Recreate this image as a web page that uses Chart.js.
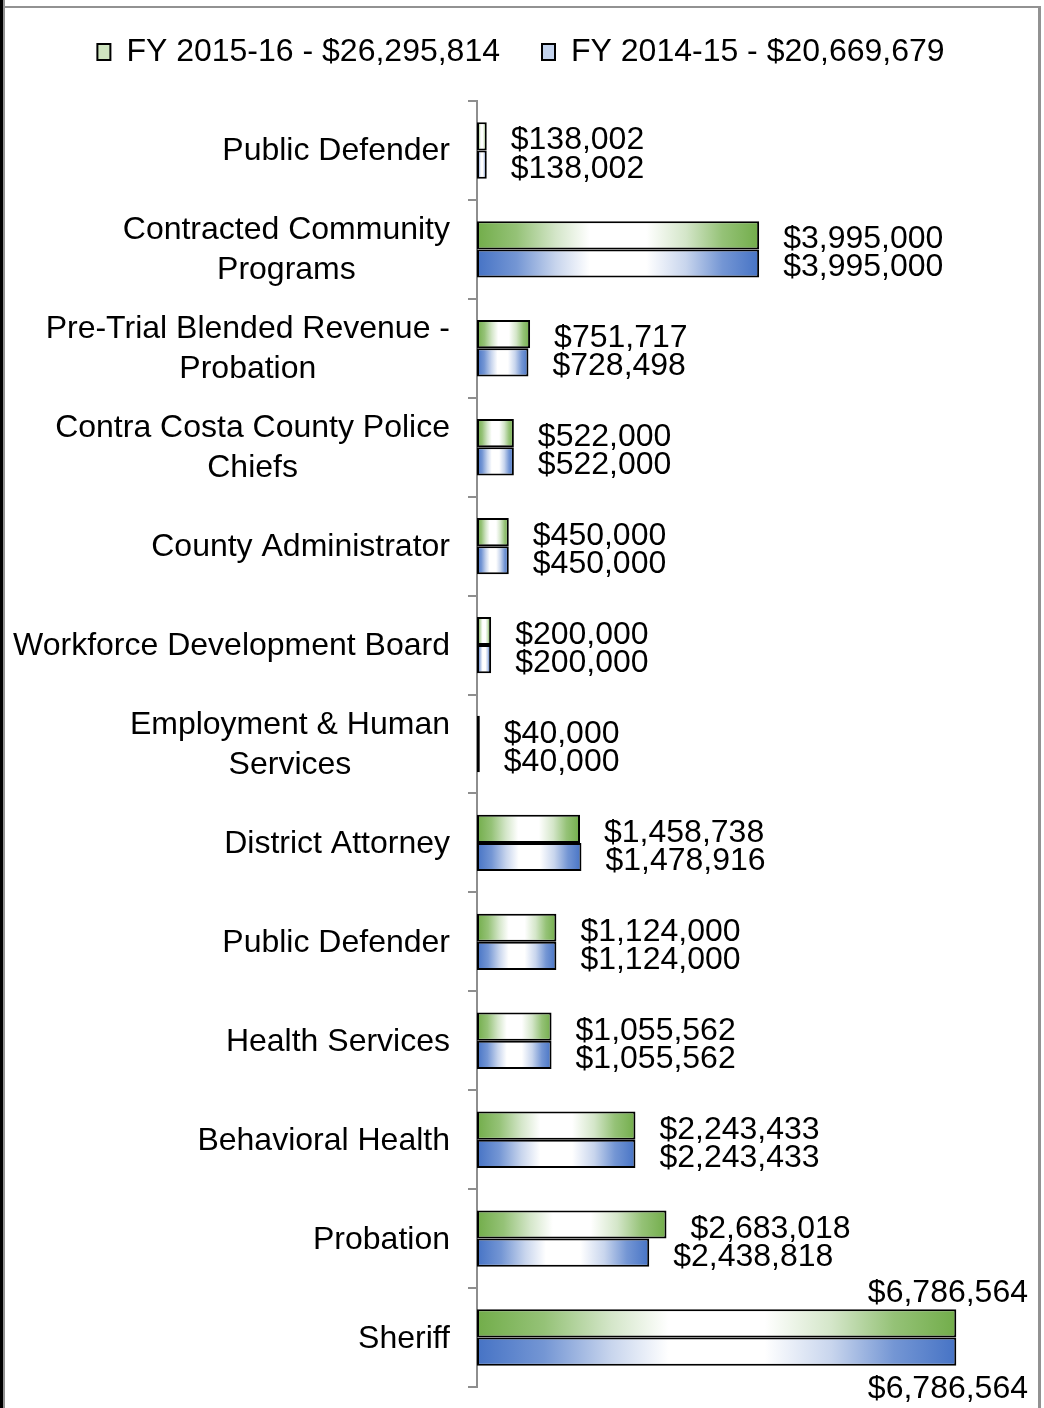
<!DOCTYPE html>
<html>
<head>
<meta charset="utf-8">
<script src="https://cdn.jsdelivr.net/npm/chart.js@4.4.1/dist/chart.umd.min.js"></script>
<style>
  html, body { margin: 0; padding: 0; background: #ffffff; }
  #wrap { position: relative; width: 1044px; height: 1408px; overflow: hidden; background: #fff; }
  #c { position: absolute; left: 0; top: 0; }
  .fr { position: absolute; pointer-events: none; }
</style>
</head>
<body>
<div id="wrap">
  <canvas id="c" width="1044" height="1408"></canvas>
  <div class="fr" style="left:0;top:0;width:3px;height:1408px;background:#000;"></div>
  <div class="fr" style="left:3px;top:0;width:2px;height:1408px;background:#929292;"></div>
  <div class="fr" style="left:3px;top:6px;width:1038px;height:2px;background:#929292;"></div>
  <div class="fr" style="left:1038px;top:6px;width:3px;height:1402px;background:#929292;"></div>
</div>
<script>
// ---- data ----
const categories = [
  ["Public Defender"],
  ["Contracted Community", "Programs"],
  ["Pre-Trial Blended Revenue -", "Probation"],
  ["Contra Costa County Police", "Chiefs"],
  ["County Administrator"],
  ["Workforce Development Board"],
  ["Employment & Human", "Services"],
  ["District Attorney"],
  ["Public Defender"],
  ["Health Services"],
  ["Behavioral Health"],
  ["Probation"],
  ["Sheriff"]
];
const fy1516 = [138002, 3995000, 751717, 522000, 450000, 200000, 40000, 1458738, 1124000, 1055562, 2243433, 2683018, 6786564];
const fy1415 = [138002, 3995000, 728498, 522000, 450000, 200000, 40000, 1478916, 1124000, 1055562, 2243433, 2438818, 6786564];
const seriesNames = ["FY 2015-16 - $26,295,814", "FY 2014-15 - $20,669,679"];
const axisMax = 8000000;

// ---- styles ----
const FONT = "'Liberation Sans', Arial, sans-serif";
const greenStops = ['rgb(114,173,74)', 'rgb(149,194,119)', 'rgb(212,230,201)', '#ffffff'];
const blueStops = ['rgb(70,115,197)', 'rgb(116,150,212)', 'rgb(200,213,237)', '#ffffff'];
const legendFills = ['#cfe5c0', '#c3d3ee'];

Chart.defaults.font.family = FONT;
Chart.defaults.color = '#000';

function barGradient(st) {
  return function (c) {
    if (c.type !== 'data') return st[0];
    const chart = c.chart;
    const xs = chart.scales && chart.scales.x;
    if (!xs || !chart.chartArea) return st[0];
    const x0 = xs.getPixelForValue(0);
    const x1 = xs.getPixelForValue(c.raw);
    if (!isFinite(x0) || !isFinite(x1) || x1 - x0 < 1) return st[0];
    const g = chart.ctx.createLinearGradient(x0, 0, x1, 0);
    g.addColorStop(0, st[0]);
    g.addColorStop(0.14, st[1]);
    g.addColorStop(0.28, st[2]);
    g.addColorStop(0.40, st[3]);
    g.addColorStop(0.60, st[3]);
    g.addColorStop(0.74, st[2]);
    g.addColorStop(0.87, st[1]);
    g.addColorStop(1, st[0]);
    return g;
  };
}

function fmt(v) { return '$' + v.toLocaleString('en-US'); }

const valueLabels = {
  id: 'valueLabels',
  afterDatasetsDraw(chart) {
    const ctx = chart.ctx;
    const area = chart.chartArea;
    ctx.save();
    ctx.font = '32px ' + FONT;
    ctx.fillStyle = '#000';
    ctx.textBaseline = 'alphabetic';
    chart.data.datasets.forEach((ds, di) => {
      const meta = chart.getDatasetMeta(di);
      meta.data.forEach((el, i) => {
        const txt = fmt(ds.data[i]);
        const w = ctx.measureText(txt).width;
        const x = el.x + 24;
        if (x + w > area.right) {
          ctx.textAlign = 'right';
          const rx = area.right - 14;
          if (di === 0) {
            ctx.fillText(txt, rx, el.y - el.height / 2 - 7);
          } else {
            ctx.fillText(txt, rx, el.y + el.height / 2 + 32);
          }
        } else {
          ctx.textAlign = 'left';
          ctx.fillText(txt, x, el.y + 13);
        }
      });
    });
    ctx.restore();
  }
};

const categoryLabels = {
  id: 'categoryLabels',
  afterDraw(chart) {
    const ctx = chart.ctx;
    const ys = chart.scales.y;
    const right = chart.chartArea.left - 27;
    ctx.save();
    ctx.font = '32px ' + FONT;
    ctx.fillStyle = '#000';
    ctx.textBaseline = 'alphabetic';
    ctx.textAlign = 'center';
    categories.forEach((lines, i) => {
      const cy = ys.getPixelForValue(i);
      const widths = lines.map(l => ctx.measureText(l).width);
      const maxW = Math.max.apply(null, widths);
      const cx = right - maxW / 2;
      const lh = 40;
      const startY = cy - (lines.length - 1) * lh / 2;
      lines.forEach((l, k) => {
        ctx.fillText(l, cx, startY + k * lh + 10);
      });
    });
    ctx.restore();
  }
};

new Chart(document.getElementById('c'), {
  type: 'bar',
  data: {
    labels: categories.map(l => l.join(' ')),
    datasets: [
      {
        label: seriesNames[0],
        data: fy1516,
        backgroundColor: barGradient(greenStops),
        borderColor: '#000',
        borderWidth: 2,
        borderSkipped: false,
        categoryPercentage: 0.57,
        barPercentage: 1
      },
      {
        label: seriesNames[1],
        data: fy1415,
        backgroundColor: barGradient(blueStops),
        borderColor: '#000',
        borderWidth: 2,
        borderSkipped: false,
        categoryPercentage: 0.57,
        barPercentage: 1
      }
    ]
  },
  options: {
    indexAxis: 'y',
    responsive: false,
    animation: false,
    events: [],
    layout: { padding: { top: -6, right: 2, bottom: 21, left: 0 } },
    plugins: {
      tooltip: { enabled: false },
      legend: {
        display: true,
        position: 'top',
        align: 'center',
        labels: {
          font: { size: 32, family: FONT },
          color: '#000',
          boxWidth: 13,
          boxHeight: 16,
          padding: 42,
          generateLabels(chart) {
            return chart.data.datasets.map((ds, i) => ({
              text: ds.label,
              fillStyle: legendFills[i],
              strokeStyle: '#000',
              lineWidth: 2,
              hidden: false,
              datasetIndex: i,
              fontColor: '#000'
            }));
          }
        }
      }
    },
    scales: {
      x: {
        type: 'linear',
        position: 'top',
        min: 0,
        max: axisMax,
        display: true,
        grid: { display: false },
        border: { display: false },
        ticks: { display: false },
        afterFit(s) { s.height = 23; }
      },
      y: {
        type: 'category',
        position: 'left',
        grid: {
          display: true,
          offset: true,
          drawOnChartArea: false,
          drawTicks: true,
          tickLength: 9,
          color: '#8e8e8e',
          lineWidth: 2
        },
        border: { display: true, color: '#8e8e8e', width: 2 },
        ticks: { display: false },
        afterFit(s) { s.width = 477; }
      }
    }
  },
  plugins: [valueLabels, categoryLabels]
});
</script>
</body>
</html>
